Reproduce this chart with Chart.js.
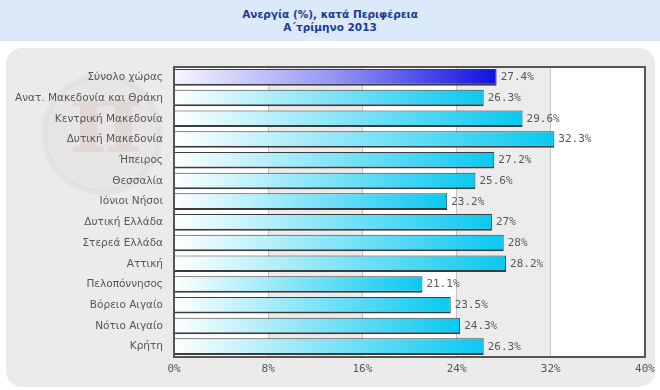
<!DOCTYPE html>
<html>
<head>
<meta charset="utf-8">
<script src="https://cdn.jsdelivr.net/npm/chart.js@4"></script>
<style>
    html, body { margin: 0; padding: 0; width: 660px; height: 390px; background: #fff; overflow: hidden; }
    .header {
        position: absolute; left: 0; top: 0; width: 660px; height: 41px;
        background: #dce9fb; text-align: center;
        font: bold 10.5px "DejaVu Sans", Verdana, sans-serif; color: #1a3c94;
        line-height: 13px; padding-top: 8px; box-sizing: border-box;
    }
    .panel {
        position: absolute; left: 6px; top: 48px; width: 649px; height: 339px;
        background: #ebebeb; border-radius: 16px;
    }
    #chart { position: absolute; left: 0; top: 0; }
</style>
</head>
<body>
<div class="header">Ανεργία (%), κατά Περιφέρεια<br>Α΄τρίμηνο 2013</div>
<div class="panel"><canvas id="chart" width="649" height="339"></canvas></div>
<script>
// Unemployment by region, Q1 2013
const categories = [
    'Σύνολο χώρας', 'Ανατ. Μακεδονία και Θράκη', 'Κεντρική Μακεδονία', 'Δυτική Μακεδονία',
    'Ήπειρος', 'Θεσσαλία', 'Ιόνιοι Νήσοι', 'Δυτική Ελλάδα', 'Στερεά Ελλάδα', 'Αττική',
    'Πελοπόννησος', 'Βόρειο Αιγαίο', 'Νότιο Αιγαίο', 'Κρήτη'
];
const values = [27.4, 26.3, 29.6, 32.3, 27.2, 25.6, 23.2, 27, 28, 28.2, 21.1, 23.5, 24.3, 26.3];
const tickValues = [0, 8, 16, 24, 32, 40];

// gradient from the left edge of the plot to the end of each bar
function barGradient(ctx) {
    const chart = ctx.chart;
    const area = chart.chartArea;
    if (!area || ctx.dataIndex === undefined) return '#10c8f0';
    const xScale = chart.scales.x;
    const end = xScale.getPixelForValue(values[ctx.dataIndex]);
    const g = chart.ctx.createLinearGradient(area.left, 0, end, 0);
    if (ctx.dataIndex === 0) {
        g.addColorStop(0, '#f6f6ff');
        g.addColorStop(0.5, '#9494f4');
        g.addColorStop(1, '#1010e0');
    } else {
        g.addColorStop(0, '#ffffff');
        g.addColorStop(0.4, '#9ae9f9');
        g.addColorStop(1, '#0ac8f0');
    }
    return g;
}

const plotBackground = {
    id: 'plotBackground',
    beforeDraw(chart) {
        const { ctx, chartArea: a, scales: { x } } = chart;
        ctx.save();
        // faint seal watermark
        ctx.beginPath();
        ctx.arc(96, 86, 58, 0, Math.PI * 2);
        ctx.fillStyle = 'rgba(200,160,160,0.07)';
        ctx.fill();
        ctx.lineWidth = 6;
        ctx.strokeStyle = 'rgba(170,150,150,0.08)';
        ctx.stroke();
        ctx.fillStyle = 'rgba(190,120,120,0.11)';
        ctx.font = 'bold 100px "DejaVu Serif"';
        ctx.textAlign = 'center';
        ctx.textBaseline = 'middle';
        ctx.fillText('π', 100, 78);
        // alternating bands
        ctx.fillStyle = '#ffffff';
        ctx.fillRect(a.left, a.top, a.width, a.height);
        for (let i = 0; i < tickValues.length - 1; i++) {
            if (i % 2 === 1) {
                const x0 = x.getPixelForValue(tickValues[i]);
                const x1 = x.getPixelForValue(tickValues[i + 1]);
                ctx.fillStyle = '#ececec';
                ctx.fillRect(x0, a.top, x1 - x0, a.height);
            }
        }
        ctx.restore();
    },
    afterDatasetsDraw(chart) {
        const { ctx, chartArea: a } = chart;
        ctx.save();
        ctx.strokeStyle = '#555555';
        ctx.lineWidth = 2;
        ctx.strokeRect(a.left, a.top, a.width, a.height);
        // value labels
        const meta = chart.getDatasetMeta(0);
        ctx.fillStyle = '#585858';
        ctx.font = '11px "DejaVu Sans Mono", monospace';
        ctx.textAlign = 'left';
        ctx.textBaseline = 'middle';
        meta.data.forEach((bar, i) => {
            ctx.fillText(values[i] + '%', bar.x + 4, bar.y);
        });
        ctx.restore();
    }
};

new Chart(document.getElementById('chart'), {
    type: 'bar',
    data: {
        labels: categories,
        datasets: [{
            data: values,
            backgroundColor: barGradient,
            borderColor: '#3c3c3c',
            borderWidth: { top: 1, right: 1, bottom: 2, left: 0 },
            borderSkipped: false,
            categoryPercentage: 1,
            barPercentage: 0.8
        }]
    },
    options: {
        indexAxis: 'y',
        responsive: false,
        animation: false,
        layout: { padding: { left: 0, right: 10, top: 19, bottom: 0 } },
        plugins: {
            legend: { display: false },
            tooltip: { enabled: false }
        },
        scales: {
            x: {
                min: 0, max: 40,
                afterBuildTicks(scale) { scale.ticks = tickValues.map(v => ({ value: v })); },
                afterFit(scale) {
                    scale.height = 30;
                    scale.paddingLeft = 0;
                    scale.paddingRight = 0;
                },
                grid: { color: '#c4c4c4', drawTicks: false },
                border: { display: false },
                ticks: {
                    padding: 6,
                    color: '#555555',
                    font: { family: '"DejaVu Sans Mono", monospace', size: 11 },
                    callback: v => v + '%'
                }
            },
            y: {
                afterFit(scale) {
                    scale.width = 168;
                    scale.paddingTop = 0;
                    scale.paddingBottom = 0;
                },
                grid: { display: false },
                border: { display: false },
                ticks: {
                    padding: 3,
                    color: '#555555',
                    font: { family: '"DejaVu Sans", sans-serif', size: 10.5 }
                }
            }
        }
    },
    plugins: [plotBackground]
});
</script>
</body>
</html>
